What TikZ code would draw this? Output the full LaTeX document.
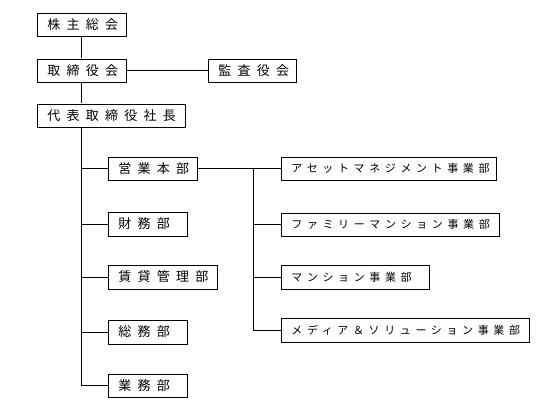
\documentclass[tikz,border=0pt]{standalone}
\usepackage{fontspec}
\setmainfont{Noto Sans CJK JP}
\newfontfamily\jpbig[LetterSpace=48]{Noto Sans CJK JP}
\newfontfamily\jpsmall[LetterSpace=42]{Noto Sans CJK JP}
\usetikzlibrary{positioning}

\begin{document}
\begin{tikzpicture}[x=1pt, y=-1pt]

\tikzset{
  organ/.style={
    draw,
    rectangle,
    anchor=west,
    fill=white,
    minimum height=23.5pt,
    inner xsep=10pt,
    inner ysep=0pt,
    text width=#1-20pt,
    align=left,
    font=\jpbig\fontsize{13pt}{15pt}\selectfont
  },
  bizunit/.style={
    draw,
    rectangle,
    anchor=west,
    fill=white,
    minimum height=23.5pt,
    inner xsep=10pt,
    inner ysep=0pt,
    text width=#1-20pt,
    align=left,
    font=\jpsmall\fontsize{11pt}{13pt}\selectfont
  },
  line width=0.8pt
}

\useasboundingbox (0,0) rectangle (550,400);

% NODES ----------------------------------------------------------

% Nodes top management
\node[organ=89pt]  (kabunushi) at (37, 24.5)  {株主総会};
\node[organ=89pt]  (torishimari) at (37, 70.5) {取締役会};
\node[organ=88pt]  (kansa)     at (208, 70.5) {監査役会};
\node[organ=148pt] (daihyo)    at (37, 115.5) {代表取締役社長};

% Nodes departments
\node[organ=89pt]  (eigyo)     at (108, 168.5) {営業本部};
\node[organ=79pt]  (zaimu)     at (108, 224)   {財務部};
\node[organ=109pt] (chintai)   at (108, 277)   {賃貸管理部};
\node[organ=79pt]  (somu)      at (108, 332)   {総務部};
\node[organ=79pt]  (gyomu)     at (108, 385.5) {業務部};

% Nodes business units under eigyo
\node[bizunit=215pt] (asset)   at (281, 168.5) {アセットマネジメント事業部};
\node[bizunit=218pt] (family)  at (281, 224.5) {ファミリーマンション事業部};
\node[bizunit=148pt] (mansion) at (281, 277.3) {マンション事業部};
\node[bizunit=248pt] (media)   at (281, 330.3) {メディア＆ソリューション事業部};

% Trunk coordinates
\coordinate (trunk)  at (81.5, 0);
\coordinate (branch) at (253, 168.5);

% DRAWS ---------------------------------------------------------

% Draws top chain
\draw (kabunushi.south -| trunk) -- (torishimari.north -| trunk);
\draw (torishimari.south -| trunk) -- (daihyo.north -| trunk);
\draw (torishimari) -- (kansa);

% Draws departments
\draw (daihyo.south -| trunk) |- (gyomu.west);
\draw (eigyo.west -| trunk) -- (eigyo.west);
\draw (zaimu.west -| trunk) -- (zaimu.west);
\draw (chintai.west -| trunk) -- (chintai.west);
\draw (somu.west -| trunk) -- (somu.west);

% Draws business units
\draw (eigyo) -- (asset);
\draw (branch) |- (media.west);
\draw (family.west -| branch) -- (family.west);
\draw (mansion.west -| branch) -- (mansion.west);

\end{tikzpicture}
\end{document}
